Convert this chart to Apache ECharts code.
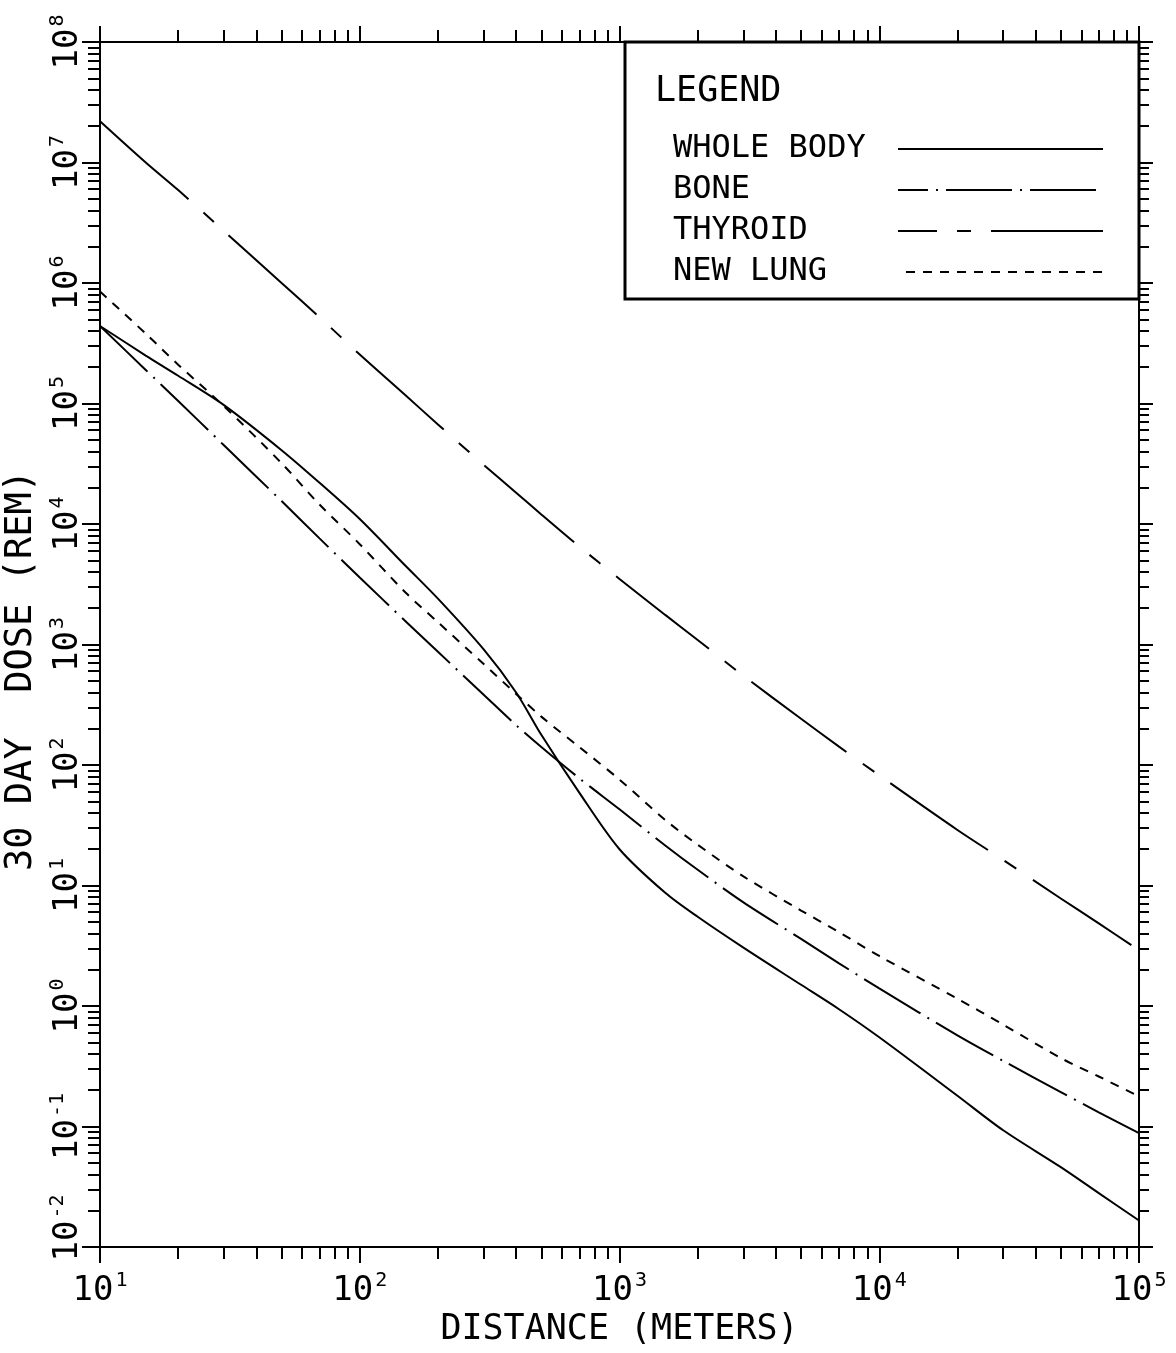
<!DOCTYPE html>
<html>
<head>
<meta charset="utf-8">
<script src="https://cdn.jsdelivr.net/npm/echarts@6/dist/echarts.min.js"></script>
<style>
html, body { margin: 0; padding: 0; background: #fff; }
#chart { width: 1176px; height: 1353px; }
</style>
</head>
<body>
<div id="chart"></div>
<script>
// distance in meters, dose in rem
var distances = [10, 15, 20, 30, 50, 70, 100, 150, 200, 300, 400, 500, 700, 1000, 1500,
  2000, 3000, 5000, 7000, 10000, 20000, 30000, 50000, 70000, 100000]
var wholeBody = [4.4e5, 2.5e5, 1.7e5, 9.7e4, 4.1e4, 2.2e4, 1.1e4, 4.5e3, 2.4e3, 910, 400,
  178, 59, 20, 8.7, 5.5, 3.05, 1.5, 0.94, 0.55, 0.18, 0.093, 0.046, 0.028, 0.0166]
var bone = [4.4e5, 1.9e5, 1.05e5, 4.5e4, 1.55e4, 7.6e3, 3.6e3, 1.56e3, 870, 383, 214,
  141, 77.6, 42.9, 21.5, 13.5, 7.25, 3.6, 2.26, 1.4, 0.57, 0.35, 0.193, 0.131, 0.088]
var thyroid = [2.2e7, 1.0e7, 5.9e6, 2.7e6, 1.0e6, 5.2e5, 2.55e5, 1.17e5, 6.7e4, 3.1e4, 1.82e4,
  1.2e4, 6.5e3, 3.5e3, 1.76e3, 1.09e3, 550, 242, 142, 82, 28.9, 16.3, 7.8, 4.85, 2.9]
var newLung = [8.5e5, 3.8e5, 2.1e5, 9.5e4, 3.2e4, 1.45e4, 6.8e3, 2.7e3, 1.53e3, 689, 389,
  252, 141, 75.7, 35, 21.8, 11.9, 6.2, 4.1, 2.6, 1.15, 0.70, 0.37, 0.26, 0.178]

var seriesNames = ['WHOLE BODY', 'BONE', 'THYROID', 'NEW LUNG']
var xDecades = [10, 100, 1000, 10000, 100000]
var yDecades = [1e-2, 1e-1, 1, 10, 100, 1e3, 1e4, 1e5, 1e6, 1e7, 1e8]

var FONT = 'DejaVu Sans Mono'

// dash patterns of the plotter pens
var dashes = {
  'WHOLE BODY': 'solid',
  'BONE': [66, 8, 2, 8],
  'THYROID': [118, 20, 14, 20],
  'NEW LUNG': [9, 8]
}
// where each pattern starts in the legend sample
var legendOffsets = { 'WHOLE BODY': 0, 'BONE': 36, 'THYROID': 79, 'NEW LUNG': 9 }

function minorValues(decades) {
  var out = []
  for (var i = 0; i < decades.length - 1; i++) {
    for (var k = 2; k <= 9; k++) {
      out.push(parseFloat((decades[i] * k).toPrecision(3)))
    }
  }
  return out
}

function expLabel(v) {
  var e = Math.round(Math.log(v) / Math.LN10)
  return '{b|10}{s|' + e + '}'
}

// lowest y label sits a bit above its tick, as in the original plot
function expLabelY(v) {
  var e = Math.round(Math.log(v) / Math.LN10)
  var first = v <= yDecades[0] * 1.001
  return (first ? '{p|}{b|10}' : '{b|10}') + '{s|' + e + '}'
}

var labelRich = {
  b: { fontFamily: FONT, fontSize: 34, lineHeight: 40, color: '#000' },
  p: { width: 38, lineHeight: 40 },
  s: { fontFamily: FONT, fontSize: 20, lineHeight: 40, verticalAlign: 'top', color: '#000', padding: [0, 0, 0, 2] }
}

function makeAxis(kind, position, decades, isMajor, showLabel, tickLen) {
  var ax = {
    type: 'log',
    logBase: 10,
    position: position,
    min: decades[0],
    max: decades[decades.length - 1],
    splitLine: { show: false },
    axisLine: { show: isMajor, onZero: false, lineStyle: { color: '#000', width: 2 } },
    axisTick: {
      show: true,
      inside: false,
      length: tickLen,
      customValues: isMajor ? decades : minorValues(decades),
      lineStyle: { color: '#000', width: 2 }
    },
    axisLabel: { show: false },
    axisPointer: { show: false }
  }
  if (showLabel) {
    ax.axisLabel = {
      show: true,
      customValues: decades,
      formatter: kind === 'x' ? expLabel : expLabelY,
      rich: labelRich,
      margin: kind === 'x' ? 24 : 12,
      rotate: kind === 'x' ? 0 : 90,
      showMinLabel: true,
      showMaxLabel: true,
      hideOverlap: false
    }
  }
  return ax
}

function buildSeries() {
  var cols = [wholeBody, bone, thyroid, newLung]
  return seriesNames.map(function(name, i) {
    return {
      name: name,
      type: 'line',
      xAxisIndex: 0,
      yAxisIndex: 0,
      symbol: 'none',
      smooth: 0.3,
      clip: true,
      silent: true,
      data: distances.map(function(d, j) { return [d, cols[i][j]] }),
      lineStyle: { color: '#000', width: 2, type: dashes[name] }
    }
  })
}

var xAxes = [
  makeAxis('x', 'bottom', xDecades, true, true, 16),
  makeAxis('x', 'bottom', xDecades, false, false, 12),
  makeAxis('x', 'top', xDecades, true, false, 16),
  makeAxis('x', 'top', xDecades, false, false, 12)
]
xAxes[0].name = 'DISTANCE (METERS)'
xAxes[0].nameLocation = 'middle'
xAxes[0].nameGap = 62
xAxes[0].nameTextStyle = { fontFamily: FONT, fontSize: 35, color: '#000' }

var yAxes = [
  makeAxis('y', 'left', yDecades, true, true, 18),
  makeAxis('y', 'left', yDecades, false, false, 12),
  makeAxis('y', 'right', yDecades, true, false, 14),
  makeAxis('y', 'right', yDecades, false, false, 10)
]
yAxes[0].name = '30 DAY  DOSE (REM)'
yAxes[0].nameLocation = 'middle'
yAxes[0].nameGap = 53
yAxes[0].nameTextStyle = { fontFamily: FONT, fontSize: 37, color: '#000', padding: [0, 52, 0, 0] }

var chart = echarts.init(document.getElementById('chart'), null, { renderer: 'canvas' })
chart.setOption({
  animation: false,
  backgroundColor: '#fff',
  grid: { left: 100, right: 37, top: 42, bottom: 106, containLabel: false, outerBoundsMode: 'none' },
  xAxis: xAxes,
  yAxis: yAxes,
  legend: {
    orient: 'vertical',
    left: 673,
    top: 133,
    padding: 0,
    itemGap: 9,
    itemWidth: 205,
    itemHeight: 10,
    align: 'right',
    selectedMode: false,
    itemStyle: { opacity: 0 },
    formatter: function(name) { return '{a|' + name + '}' },
    textStyle: {
      rich: { a: { fontFamily: FONT, fontSize: 32, lineHeight: 32, width: 220, align: 'left', color: '#000' } }
    },
    data: seriesNames.map(function(name) {
      return {
        name: name,
        itemStyle: { opacity: 0 },
        lineStyle: { color: '#000', width: 2, type: dashes[name], dashOffset: legendOffsets[name] }
      }
    })
  },
  graphic: [
    {
      type: 'rect',
      shape: { x: 625, y: 42, width: 514, height: 257 },
      style: { fill: null, stroke: '#000', lineWidth: 3 },
      z: 100
    },
    {
      type: 'text',
      left: 655,
      top: 74,
      style: { text: 'LEGEND', font: '35px "DejaVu Sans Mono"', fill: '#000' },
      z: 100
    }
  ],
  series: buildSeries()
})
</script>
</body>
</html>
